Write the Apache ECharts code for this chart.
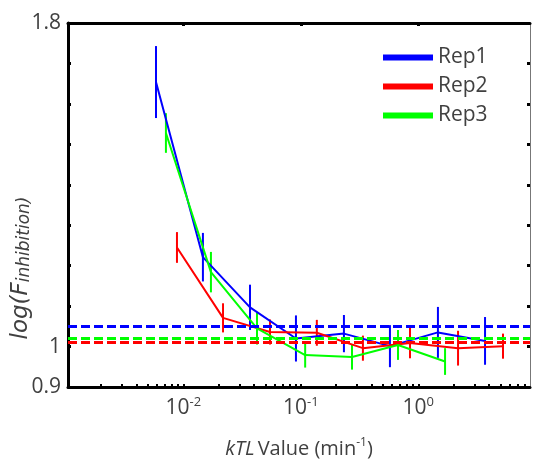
<!DOCTYPE html>
<html>
<head>
<meta charset="utf-8">
<script src="https://cdn.jsdelivr.net/npm/echarts@6/dist/echarts.min.js"></script>
<style>
  html, body { margin: 0; padding: 0; background: #fff; }
  #chart { width: 533px; height: 463px; }
</style>
</head>
<body>
<div id="chart"></div>
<script>
// kTL values (min^-1) and log(F_inhibition)
const rep1K = [0.00586, 0.0147, 0.0370, 0.0910, 0.233, 0.574, 1.47, 3.70];
const rep1Y = [1.654, 1.221, 1.097, 1.020, 1.032, 1.001, 1.035, 1.014];
const rep1Err = [0.089, 0.060, 0.056, 0.057, 0.046, 0.052, 0.063, 0.059];

const rep2K = [0.00884, 0.0218, 0.0547, 0.137, 0.338, 0.850, 2.18, 5.26];
const rep2Y = [1.245, 1.071, 1.036, 1.034, 0.996, 1.009, 0.996, 1.001];
const rep2Err = [0.038, 0.036, 0.031, 0.032, 0.031, 0.038, 0.043, 0.031];

const rep3K = [0.00712, 0.0172, 0.0424, 0.109, 0.273, 0.672, 1.69];
const rep3Y = [1.528, 1.184, 1.045, 0.979, 0.974, 1.004, 0.963];
const rep3Err = [0.049, 0.050, 0.040, 0.031, 0.031, 0.037, 0.033];

// dashed reference levels
const baseLevels = [1.049, 1.013, 1.021];

const seriesNames = ["Rep1", "Rep2", "Rep3"];
const colors = ["#0000ff", "#ff0000", "#00ff00"];
const xMajor = [0.01, 0.1, 1];
const yTickLabels = ["0.9", "1", "1.8"];

const X_MIN = 0.001045, X_MAX = 8.93;
const TXT = "#404040";
const FONT = "Open Sans";

// minor log ticks 2..9 per decade inside the axis range
const xMinorTicks = [];
for (let d = -3; d <= 0; d++) {
  for (let m = 1; m <= 9; m++) {
    const v = m * Math.pow(10, d);
    if (v >= X_MIN && v <= X_MAX) xMinorTicks.push(v);
  }
}

function lineSeries(i, k, y) {
  return {
    type: "line",
    name: seriesNames[i],
    data: k.map((v, j) => [v, y[j]]),
    symbol: "none",
    color: colors[i],
    lineStyle: { width: 2, color: colors[i] },
    z: 3,
    markLine: {
      silent: true,
      symbol: ["none", "none"],
      label: { show: false },
      lineStyle: { type: [9, 4], width: 3, color: colors[i] },
      data: [{ yAxis: baseLevels[i] }],
      z: 4
    }
  };
}

function errSeries(i, k, y, e) {
  return {
    type: "custom",
    name: seriesNames[i] + " err",
    data: k.map((v, j) => [v, y[j] - e[j], y[j] + e[j]]),
    encode: { x: 0, y: [1, 2] },
    silent: true,
    z: 3,
    renderItem: (params, api) => {
      const lo = api.coord([api.value(0), api.value(1)]);
      const hi = api.coord([api.value(0), api.value(2)]);
      return {
        type: "line",
        shape: { x1: lo[0], y1: lo[1], x2: hi[0], y2: hi[1] },
        style: { stroke: colors[i], lineWidth: 2 }
      };
    }
  };
}

const xLabelFmt = (v) => {
  const e = Math.round(Math.log10(v));
  return `{b|10}{s|${e}}`;
};

const chart = echarts.init(document.getElementById("chart"));
chart.setOption({
  animation: false,
  textStyle: { fontFamily: FONT },
  grid: { left: 68, right: 3, top: 23, bottom: 76, outerBoundsMode: "none" },
  legend: {
    data: seriesNames,
    left: 378,
    top: 42,
    orient: "vertical",
    icon: "rect",
    itemWidth: 50,
    itemHeight: 6,
    itemGap: 8,
    textStyle: { fontSize: 21, color: TXT, fontFamily: FONT }
  },
  xAxis: [
    {
      type: "log",
      position: "bottom",
      min: X_MIN,
      max: X_MAX,
      axisLine: { onZero: false, lineStyle: { color: "#000", width: 3 } },
      axisTick: { inside: true, length: 3, customValues: xMinorTicks, lineStyle: { color: "#000", width: 2 } },
      splitLine: { show: false },
      axisLabel: {
        customValues: xMajor,
        margin: 9,
        formatter: xLabelFmt,
        rich: {
          b: { fontSize: 21, color: TXT, fontFamily: FONT, lineHeight: 24 },
          s: { fontSize: 13, color: TXT, fontFamily: FONT, verticalAlign: "top", lineHeight: 14 }
        }
      },
      name: "{i|kTL} {n|Value (min}{s|-1}{n|)}",
      nameLocation: "middle",
      nameGap: 50,
      nameTextStyle: {
        rich: {
          i: { fontSize: 20, fontStyle: "italic", color: TXT, fontFamily: FONT, lineHeight: 24 },
          n: { fontSize: 20, color: TXT, fontFamily: FONT, lineHeight: 24 },
          s: { fontSize: 12, color: TXT, fontFamily: FONT, verticalAlign: "top", lineHeight: 14 }
        }
      }
    },
    {
      type: "log",
      position: "top",
      min: X_MIN,
      max: X_MAX,
      axisLine: { onZero: false, lineStyle: { color: "#000", width: 3 } },
      axisTick: { inside: true, length: 3, customValues: xMajor, lineStyle: { color: "#000", width: 3 } },
      axisLabel: { show: false },
      splitLine: { show: false }
    }
  ],
  yAxis: [
    {
      type: "value",
      position: "left",
      min: 0.9,
      max: 1.8,
      interval: 0.1,
      axisLine: { show: true, onZero: false, lineStyle: { color: "#000", width: 3 } },
      axisTick: { show: true, inside: true, length: 3, lineStyle: { color: "#000", width: 3 } },
      splitLine: { show: false },
      axisLabel: {
        margin: 7,
        fontSize: 21,
        color: TXT,
        fontFamily: FONT,
        formatter: (v) => {
          const s = String(+v.toFixed(2));
          return yTickLabels.includes(s) ? s : "";
        }
      },
      name: "{i|log(F}{s|inhibition)}",
      nameLocation: "middle",
      nameGap: 35,
      nameMoveOverlap: false,
      nameTextStyle: {
        padding: [0, 126, 0, 0],
        rich: {
          i: { fontSize: 23, fontStyle: "italic", color: TXT, fontFamily: "DejaVu Sans", lineHeight: 24 },
          s: { fontSize: 17, fontStyle: "italic", color: TXT, fontFamily: "DejaVu Sans", verticalAlign: "bottom", lineHeight: 16 }
        }
      }
    },
    {
      type: "value",
      position: "right",
      min: 0.9,
      max: 1.8,
      interval: 0.1,
      axisLine: { show: true, onZero: false, lineStyle: { color: "#777", width: 1 } },
      axisTick: { show: true, inside: true, length: 3, lineStyle: { color: "#000", width: 3 } },
      axisLabel: { show: false },
      splitLine: { show: false }
    }
  ],
  series: [
    lineSeries(0, rep1K, rep1Y),
    lineSeries(1, rep2K, rep2Y),
    lineSeries(2, rep3K, rep3Y),
    errSeries(0, rep1K, rep1Y, rep1Err),
    errSeries(1, rep2K, rep2Y, rep2Err),
    errSeries(2, rep3K, rep3Y, rep3Err)
  ]
});
</script>
</body>
</html>
